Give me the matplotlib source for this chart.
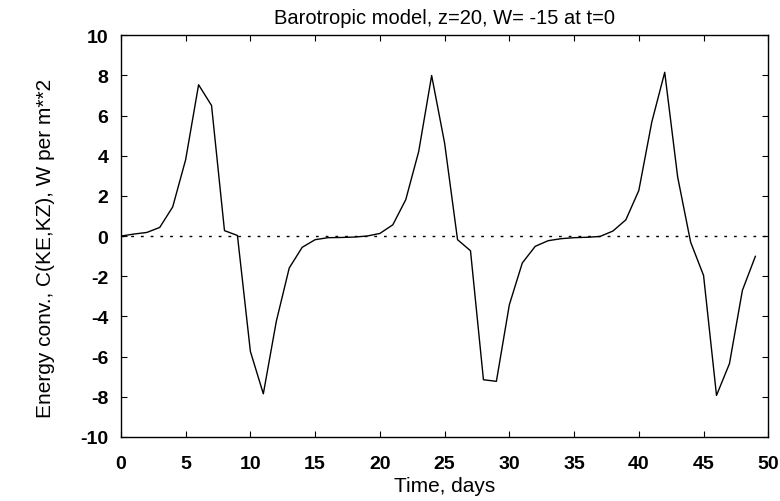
import numpy as np
import matplotlib
matplotlib.use("Agg")
import matplotlib.pyplot as plt

# Data
days = np.arange(0, 50)
energy_conv = [0.0, 0.1, 0.18, 0.43, 1.45, 3.8, 7.53, 6.5, 0.27, 0.03,
               -5.74, -7.85, -4.25, -1.59, -0.56, -0.18, -0.08, -0.07, -0.05, 0.0,
               0.13, 0.56, 1.81, 4.21, 7.99, 4.63, -0.18, -0.73, -7.15, -7.23,
               -3.42, -1.34, -0.51, -0.23, -0.13, -0.08, -0.06, -0.02, 0.25, 0.81,
               2.27, 5.67, 8.15, 2.94, -0.3, -1.96, -7.93, -6.35, -2.7, -1.01]
xticks = [0, 5, 10, 15, 20, 25, 30, 35, 40, 45, 50]
yticks = [-10, -8, -6, -4, -2, 0, 2, 4, 6, 8, 10]

plt.rcParams['font.family'] = ['Liberation Sans', 'DejaVu Sans']

fig = plt.figure(figsize=(7.8, 5.02), dpi=100)
ax = fig.add_axes([0.155, 0.1275, 0.83, 0.8005])

ax.plot(days, energy_conv, color='black', linewidth=1.0)
ax.plot([0, 50], [0, 0], color='black', linewidth=1.0, linestyle=(0, (2, 5)))

ax.set_xlim(0, 50)
ax.set_ylim(-10, 10)
ax.set_xticks(xticks)
ax.set_yticks(yticks)
ax.set_xticklabels([str(t) for t in xticks], fontsize=14, fontweight='bold')
ax.set_yticklabels([str(t) for t in yticks], fontsize=14, fontweight='bold')
ax.tick_params(direction='in', top=True, right=True, length=4, width=0.8)
ax.tick_params(axis='x', pad=13)
ax.tick_params(axis='y', pad=9)

for s in ax.spines.values():
    s.set_linewidth(1.0)

ax.set_title("Barotropic model, z=20, W= -15 at t=0", fontsize=14.5, pad=9)
ax.set_xlabel("Time, days", fontsize=15, labelpad=3)
ax.set_ylabel("Energy conv., C(KE,KZ), W per m**2", fontsize=15)
ax.yaxis.set_label_coords(-0.102, 0.471)

fig.savefig("out.png", dpi=100)
